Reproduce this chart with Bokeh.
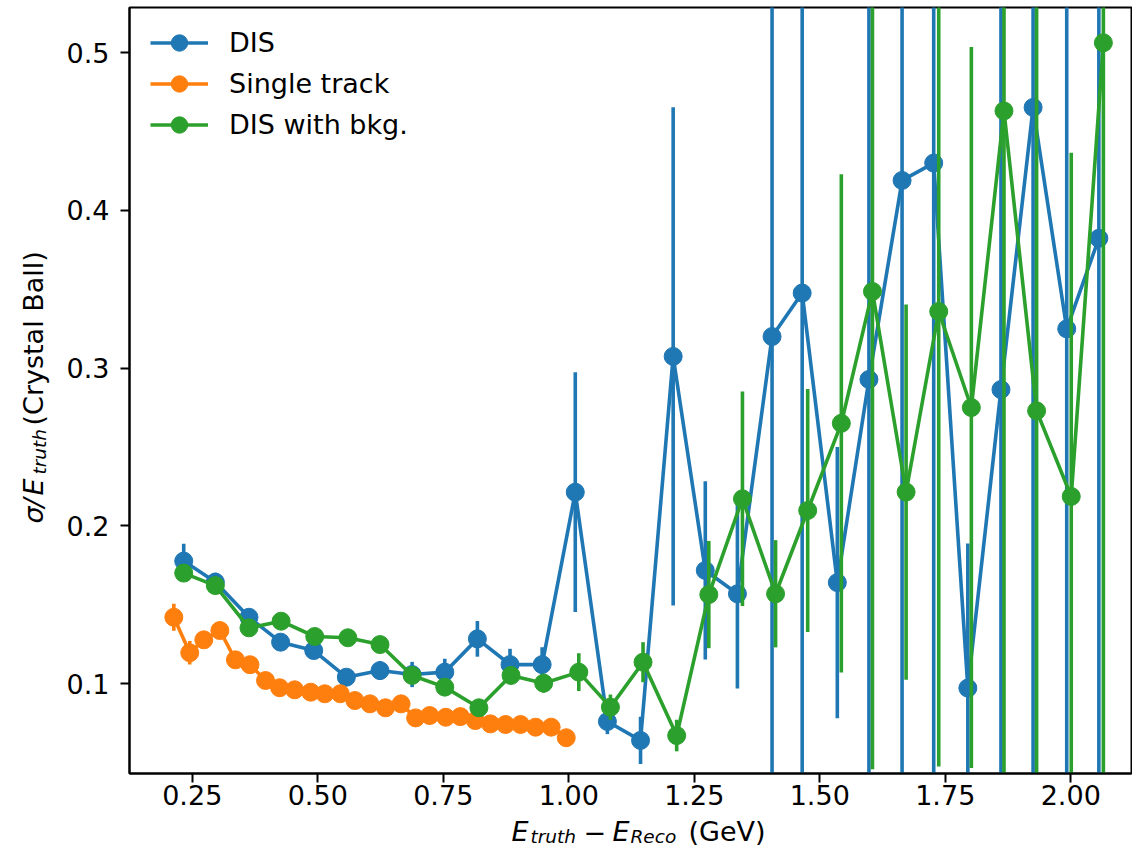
import math
import numpy as np
from bokeh.plotting import figure
from bokeh.layouts import row, column
from bokeh.models import Range1d, FixedTicker, Legend, LegendItem
from bokeh.core.properties import value
from bokeh.embed import file_html
from bokeh.resources import INLINE

# ---------------- data ----------------
dis_x = [0.233, 0.296, 0.363, 0.426, 0.492, 0.557, 0.624, 0.688, 0.753, 0.818,
         0.883, 0.947, 1.013, 1.077, 1.143, 1.208, 1.272, 1.336, 1.405, 1.465,
         1.535, 1.598, 1.664, 1.727, 1.795, 1.861, 1.925, 1.992, 2.056]
dis_y = [0.1776, 0.1643, 0.142, 0.1262, 0.1209, 0.104, 0.1082, 0.1057, 0.1072, 0.1283,
         0.112, 0.112, 0.2213, 0.0759, 0.0639, 0.3074, 0.1717, 0.1569, 0.320, 0.3476,
         0.164, 0.2928, 0.419, 0.430, 0.0971, 0.2864, 0.4653, 0.3249, 0.3823]
dis_err = [0.011, 0.006, 0.005, 0.004, 0.004, 0.004, 0.006, 0.008, 0.0085, 0.0113,
           0.010, 0.011, 0.076, 0.008, 0.015, 0.158, 0.0565, 0.060, 0.45, 0.40,
           0.086, 0.36, 0.55, 0.50, 0.0917, 0.40, 0.60, 0.42, 0.48]

single_x = [0.2133, 0.245, 0.273, 0.305, 0.336, 0.365, 0.396, 0.424, 0.454, 0.486,
            0.514, 0.545, 0.574, 0.604, 0.635, 0.666, 0.695, 0.723, 0.755, 0.784,
            0.814, 0.844, 0.874, 0.904, 0.934, 0.965, 0.995]
single_y = [0.142, 0.1195, 0.1277, 0.1336, 0.115, 0.1119, 0.1019, 0.0973, 0.096, 0.0945,
            0.0935, 0.0935, 0.0892, 0.0871, 0.0846, 0.0871, 0.0782, 0.0797, 0.0786, 0.079,
            0.0765, 0.0744, 0.074, 0.074, 0.0723, 0.0723, 0.0656]
single_err = [0.0085, 0.0075, 0.004, 0.004, 0.003, 0.003, 0.003, 0.003, 0.003, 0.003,
              0.003, 0.003, 0.003, 0.003, 0.003, 0.003, 0.003, 0.003, 0.003, 0.003,
              0.003, 0.003, 0.003, 0.003, 0.003, 0.003, 0.003]

bkg_x = [0.233, 0.296, 0.363, 0.427, 0.494, 0.560, 0.624, 0.688, 0.753, 0.821,
         0.885, 0.950, 1.020, 1.083, 1.148, 1.215, 1.279, 1.346, 1.412, 1.476,
         1.543, 1.605, 1.672, 1.737, 1.802, 1.867, 1.932, 2.001, 2.065]
bkg_y = [0.170, 0.1621, 0.1353, 0.1395, 0.1298, 0.129, 0.1247, 0.1051, 0.0977, 0.0846,
         0.1051, 0.1002, 0.1072, 0.085, 0.1135, 0.067, 0.1564, 0.2171, 0.1569, 0.2097,
         0.265, 0.3486, 0.2214, 0.3359, 0.275, 0.4631, 0.2729, 0.2186, 0.5063]
bkg_err = [0.004, 0.005, 0.004, 0.005, 0.004, 0.004, 0.004, 0.004, 0.004, 0.004,
           0.004, 0.006, 0.012, 0.008, 0.0127, 0.010, 0.034, 0.068, 0.034, 0.077,
           0.158, 0.303, 0.119, 0.2885, 0.2286, 0.45, 0.40, 0.218, 0.55]

series_names = ["DIS", "Single track", "DIS with bkg."]
series_colors = ["#1f77b4", "#ff7f0e", "#2ca02c"]

x_ticks = [0.25, 0.50, 0.75, 1.00, 1.25, 1.50, 1.75, 2.00]
x_tick_labels = ["0.25", "0.50", "0.75", "1.00", "1.25", "1.50", "1.75", "2.00"]
y_ticks = [0.1, 0.2, 0.3, 0.4, 0.5]
y_tick_labels = ["0.1", "0.2", "0.3", "0.4", "0.5"]

# ---------------- layout constants (pixels) ----------------
TOT_W, TOT_H = 1132, 847
YL_W = 60                     # width of strip holding the y-axis title
P_W, P_H = TOT_W - YL_W, 814  # main figure
XL_H = TOT_H - P_H            # strip holding the x-axis title
BL, BR, BT, BB = 69, 1, 7, 41
FW, FH = P_W - BL - BR, P_H - BT - BB
FRAME_L = YL_W + BL
FRAME_R = FRAME_L + FW
X0 = 0.125
X1 = X0 + FW / 502.0
Y1 = 0.1 + (683 - BT) / 1577.0
Y0 = Y1 - FH / 1577.0

FONT = "DejaVu Sans"
FS = "27px"
SUB = "18.5px"

p = figure(width=P_W, height=P_H, output_backend="svg", toolbar_location=None,
           x_range=Range1d(X0, X1), y_range=Range1d(Y0, Y1),
           min_border_left=BL, min_border_right=BR, min_border_top=BT, min_border_bottom=BB)
p.title.visible = False
p.xgrid.visible = False
p.ygrid.visible = False
p.outline_line_color = "black"
p.outline_line_width = 2

p.xaxis.ticker = FixedTicker(ticks=x_ticks)
p.xaxis.major_label_overrides = {t: l for t, l in zip(x_ticks, x_tick_labels)}
p.yaxis.ticker = FixedTicker(ticks=y_ticks)
p.yaxis.major_label_overrides = {t: l for t, l in zip(y_ticks, y_tick_labels)}
for ax in (p.xaxis, p.yaxis):
    ax.axis_line_color = "black"
    ax.axis_line_width = 2
    ax.major_tick_line_color = "black"
    ax.major_tick_line_width = 2
    ax.major_tick_out = 9
    ax.major_tick_in = 0
    ax.minor_tick_line_color = None
    ax.major_label_text_font = FONT
    ax.major_label_text_font_size = FS
    ax.major_label_text_color = "black"
p.xaxis.major_label_standoff = 2
p.yaxis.major_label_standoff = 11

# ---------------- series ----------------
legend_items = []
for name, color, xs, ys, es in [
        (series_names[0], series_colors[0], dis_x, dis_y, dis_err),
        (series_names[1], series_colors[1], single_x, single_y, single_err),
        (series_names[2], series_colors[2], bkg_x, bkg_y, bkg_err)]:
    xa = np.array(xs)
    ya = np.array(ys)
    ea = np.array(es)
    p.segment(x0=xa, y0=ya - ea, x1=xa, y1=ya + ea, line_color=color, line_width=3.6)
    ln = p.line(xa, ya, line_color=color, line_width=3.6)
    sc = p.scatter(xa, ya, marker="circle", size=18, fill_color=color, line_color=color)
    legend_items.append(LegendItem(label=name, renderers=[ln, sc]))

legend = Legend(items=legend_items, location=(15, 622), orientation="vertical",
                glyph_width=58, glyph_height=41, label_height=41, spacing=0,
                padding=6, margin=0, label_standoff=21,
                label_text_font=FONT, label_text_font_size=FS, label_text_color="black",
                border_line_alpha=0, background_fill_alpha=0)
p.add_layout(legend)


def put(f, pieces, y_anchor, page_top, angle=0.0):
    # pieces: (page_x, page_y, text, size, style); page_y measured downward from the top.
    # Text is anchored at the strip's top edge and pushed down by a pixel offset.
    for px, py, t, size, style in pieces:
        f.text(x=[px], y=[y_anchor], text=[t], y_offset=py - page_top,
               text_font=value(FONT), text_font_size=value(size), text_font_style=style,
               text_color="black", text_align="left", text_baseline="alphabetic",
               angle=angle)


def strip(w, h, xr):
    f = figure(width=w, height=h, output_backend="svg", toolbar_location=None,
               x_range=xr, y_range=Range1d(0, h),
               x_axis_type=None, y_axis_type=None,
               min_border_left=0, min_border_right=0, min_border_top=0, min_border_bottom=0)
    f.title.visible = False
    f.outline_line_color = None
    return f


# y-axis title strip: σ/E_truth (Crystal Ball)
fy = strip(YL_W, TOT_H, Range1d(0, YL_W))
A = math.pi / 2
put(fy, [
    (33, 523, "\u03c3", FS, "italic"),
    (33, 507, "/", FS, "italic"),
    (33, 495, "E", FS, "italic"),
    (39, 474, "truth", SUB, "italic"),
    (33, 425, "(Crystal Ball)", FS, "normal"),
], TOT_H, 0, angle=A)

# x-axis title strip: E_truth − E_Reco (GeV); its frame lines up with the main frame
fx = strip(P_W, XL_H, Range1d(FRAME_L, FRAME_R))
fx.min_border_left = BL
fx.min_border_right = BR
put(fx, [
    (511, 831, "E", FS, "italic"),
    (530, 836, "truth", SUB, "italic"),
    (583, 831, "\u2212", FS, "normal"),
    (612, 831, "E", FS, "italic"),
    (630, 836, "Reco", SUB, "italic"),
    (688, 831, "(GeV)", FS, "normal"),
], XL_H, P_H, angle=0.0)

layout = row(fy, column(p, fx))
open("out.html", "w").write(file_html(layout, INLINE))
